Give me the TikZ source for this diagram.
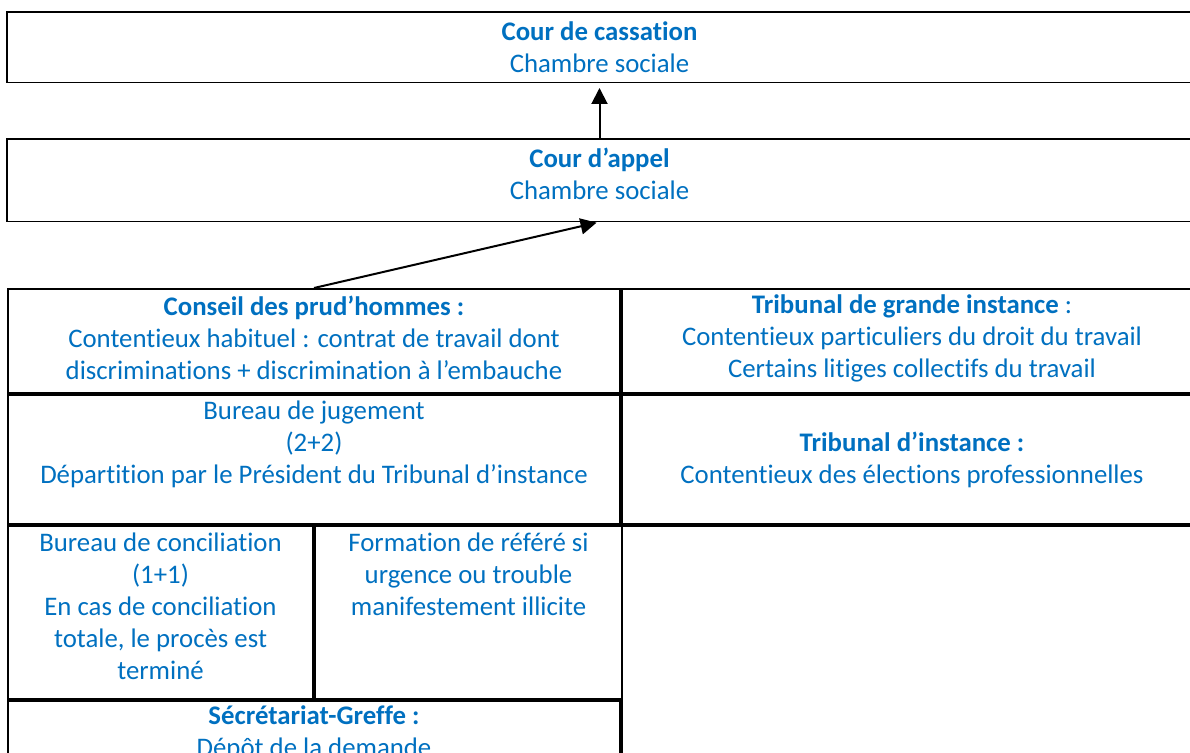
\documentclass[tikz,border=0pt]{standalone}
\usepackage{fontspec}
\setmainfont{Carlito}[Ligatures=NoCommon]
\usetikzlibrary{arrows.meta}
\definecolor{jurisblue}{RGB}{0,112,192}

\begin{document}
\begin{tikzpicture}[x=0.5pt,y=-0.5pt]
\tikzstyle{cell}=[draw,rectangle,line width=1pt,anchor=north west,inner sep=0pt]
\tikzstyle{court}=[cell,line width=0.5pt]
\tikzstyle{txt}=[text=jurisblue,align=center,inner sep=0pt,font=\fontsize{13.4}{16}\selectfont]
\tikzstyle{upto}=[-{Triangle[length=8pt,width=8pt]},line width=1pt]
\clip (0,0) rectangle (1190,753);

% cours superieures
\node[court,minimum width=592pt,minimum height=35pt] (cass) at (7,12) {};
\draw[line width=1pt] (cass.south west) |- (cass.north east);
\node[txt] (cassT) at (cass.center) {\textbf{Cour de cassation}\\Chambre sociale};
\node[court,minimum width=592pt,minimum height=41pt] (appel) at (7,139) {};
\draw[line width=1pt] (appel.south west) |- (appel.north east);
\node[txt,yshift=3.25pt] (appelT) at (appel.center) {\textbf{Cour d’appel}\\Chambre sociale};

% premiere instance, colonne gauche
\node[cell,minimum width=306pt,minimum height=52pt] (cph) at (7,288) {};
\node[txt,yshift=1.5pt] (cphT) at (cph.center) {\textbf{Conseil des prud’hommes :}\\Contentieux habituel : contrat de travail dont\\discriminations + discrimination à l’embauche};
\node[cell,minimum width=306pt,minimum height=64.5pt] (bj) at (cph.south west) {};
\node[txt,anchor=north,yshift=-3pt] (bjT) at (bj.north) {Bureau de jugement\\(2+2)\\Départition par le Président du Tribunal d’instance};
\node[cell,minimum width=152.5pt,minimum height=86.5pt] (bc) at (bj.south west) {};
\node[txt,anchor=north,yshift=-3.5pt] (bcT) at (bc.north) {Bureau de conciliation\\(1+1)\\En cas de conciliation\\totale, le procès est\\terminé};
\node[cell,minimum width=153.5pt,minimum height=86.5pt] (fr) at (bc.north east) {};
\node[txt,anchor=north,yshift=-3.5pt] (frT) at (fr.north) {Formation de référé si\\urgence ou trouble\\manifestement illicite};
\node[cell,minimum width=306pt,minimum height=53pt] (sg) at (bc.south west) {};
\node[txt,anchor=north,yshift=-2.5pt] (sgT) at (sg.north) {\textbf{Sécrétariat-Greffe :}\\Dépôt de la demande};

% colonne droite
\node[cell,minimum width=290pt,minimum height=52pt] (tgi) at (cph.north east) {};
\node[txt,yshift=1.5pt] (tgiT) at (tgi.center) {\textbf{Tribunal de grande instance} :\\Contentieux particuliers du droit du travail\\Certains litiges collectifs du travail};
\node[cell,minimum width=290pt,minimum height=64.5pt] (ti) at (tgi.south west) {};
\node[txt] (tiT) at (ti.center) {\textbf{Tribunal d’instance :}\\Contentieux des élections professionnelles};
\node[cell,minimum width=290pt,minimum height=139.5pt] (vide) at (ti.south west) {};

% recours
\draw[upto,shorten >=2.5pt] (appel.north) -- (cass.south);
\draw[upto,shorten >=1.5pt] (cph.north) -- (appel.south);
\end{tikzpicture}
\end{document}
